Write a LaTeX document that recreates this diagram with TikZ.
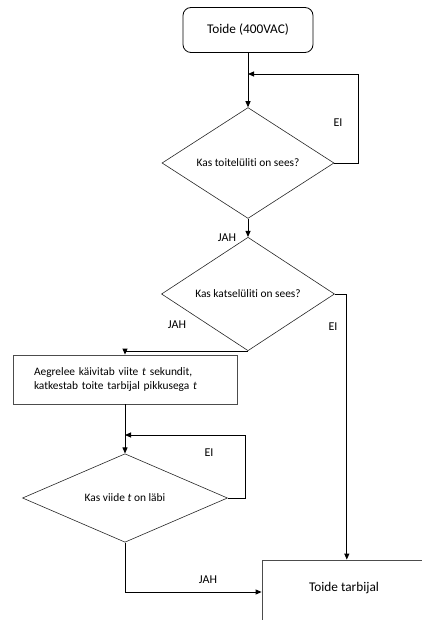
\documentclass[tikz,border=0pt]{standalone}
\usepackage{fontspec}
\setmainfont[Ligatures=NoCommon]{Carlito}
\usetikzlibrary{shapes.geometric,arrows.meta}
\begin{document}
\begin{tikzpicture}[x=1pt,y=-1pt,
  every node/.style={font=\fontsize{11.4}{14}\selectfont},
  arr/.style={draw=black,line width=0.9pt,-{Triangle[length=6pt,width=5pt]}},
  ln/.style={draw=black,line width=0.9pt},
  dia/.style={diamond,draw=black!85,line width=0.6pt,inner sep=0pt},
  boxx/.style={rectangle,draw=black!70,line width=0.8pt,inner sep=0pt},
  big/.style={font=\fontsize{13.3}{16}\selectfont},
  lab/.style={font=\fontsize{12}{14}\selectfont}]
\useasboundingbox (0,0) rectangle (422,620);
\node[boxx,rounded corners=8pt,draw=black,minimum width=130pt,minimum height=45pt,big] (top) at (248,30) {Toide (400VAC)};
\node[dia,minimum width=172pt,minimum height=84pt] (d1) at (248,163) {Kas toitelüliti on sees?};
\node[dia,minimum width=173pt,minimum height=86pt] (d2) at (248,294) {Kas katselüliti on sees?};
\node[boxx,minimum width=224pt,minimum height=49pt,text width=182pt,align=left] (a) at (125,379.5)
  {Aegrelee käivitab viite \textit{t} sekundit,\\katkestab toite tarbijal pikkusega \textit{t}};
\node[dia,minimum width=205pt,minimum height=62pt] (d3) at (125,498) {Kas viide \textit{t} on läbi};
\node[boxx,big,anchor=base,minimum width=164pt,text height=31pt,text depth=50pt] (tt) at (344,591) {Toide tarbijal};
\coordinate (c1) at (248,74);
\coordinate (c3) at (125,435);
\coordinate (j) at (262,592);
\draw[arr] (top.south) -- (d1.north);
\draw[arr] (d1.east) -- ++(24,0) |- (c1);
\node[lab] (ei1) at (338,123) {EI};
\draw[arr] (d1.south) -- (d2.north);
\node[lab] (jah1) at (227,238) {JAH};
\draw[arr] (d2.east) -- ++(12,0) coordinate (e2) -- (e2 |- tt.north);
\node[lab] (ei2) at (333,327) {EI};
\draw[arr] (d2.south) -| (a.north);
\node[lab] (jah2) at (177,325) {JAH};
\draw[arr] (a.south) -- (d3.north);
\draw[arr] (d3.east) -- ++(18,0) |- (c3);
\node[lab] (ei3) at (209,453) {EI};
\draw[arr] (d3.south) |- (tt.west |- j);
\node[lab] (jah3) at (208,580) {JAH};
\end{tikzpicture}
\end{document}
